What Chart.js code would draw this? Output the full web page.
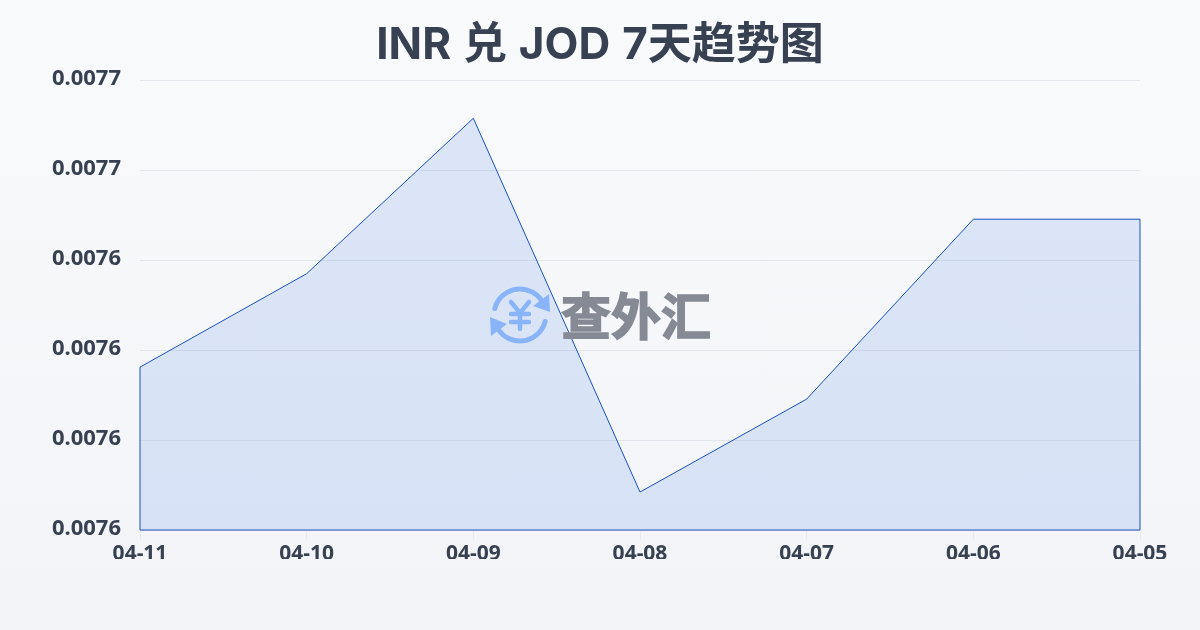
<!DOCTYPE html>
<html>
<head>
<meta charset="utf-8">
<script src="https://cdn.jsdelivr.net/npm/chart.js@4"></script>
<style>
    html, body { margin: 0; padding: 0; width: 1200px; height: 630px; overflow: hidden; background: linear-gradient(180deg, #f8fafc, #f2f4f7); }
    #chart { display: block; }
</style>
</head>
<body>
<canvas id="chart" width="1200" height="630"></canvas>
<script>
const chartTitle = 'INR 兑 JOD 7天趋势图';
const dates = ['04-11', '04-10', '04-09', '04-08', '04-07', '04-06', '04-05'];
const rates = [0.00761622, 0.00763700, 0.00767156, 0.00758844, 0.00760911, 0.00764911, 0.00764911];
const rateMin = 0.00758;
const rateMax = 0.00768;
const rateStep = 0.00002;

const textColor = '#374151';
const lineColor = '#1a50c2';
const titleFont = 'Inter, "Noto Sans CJK SC", sans-serif';
const tickFont = '"Noto Sans", "Noto Sans CJK SC", sans-serif';

// y tick labels get clipped to the scale box, so open it up to the canvas edge
const labelRoomPlugin = {
    id: 'labelRoom',
    afterLayout(chart) {
        chart.scales.y.left = 0;
    },
    beforeDraw(chart) {
        // title spaces are a bit wider in the reference
        chart.ctx.wordSpacing = '1.5px';
    }
};

// the reference closes the area outline down to the x axis
const outlinePlugin = {
    id: 'outline',
    afterDatasetsDraw(chart) {
        const pts = chart.getDatasetMeta(0).data;
        const base = chart.scales.y.getPixelForValue(rateMin);
        const first = pts[0];
        const last = pts[pts.length - 1];
        const ctx = chart.ctx;
        ctx.save();
        ctx.strokeStyle = lineColor;
        ctx.lineWidth = 1;
        ctx.beginPath();
        ctx.moveTo(first.x, first.y);
        ctx.lineTo(first.x, base);
        ctx.lineTo(last.x, base);
        ctx.lineTo(last.x, last.y);
        ctx.stroke();
        ctx.restore();
    }
};

const watermarkPlugin = {
    id: 'watermark',
    afterDatasetsDraw(chart) {
        const ctx = chart.ctx;
        const cx = 520, cy = 315, r = 26;
        ctx.save();
        ctx.strokeStyle = '#8ab4f8';
        ctx.fillStyle = '#8ab4f8';
        ctx.lineWidth = 5;
        ctx.lineCap = 'round';
        // two circular arrows
        ctx.beginPath();
        ctx.arc(cx, cy, r, Math.PI * 1.08, Math.PI * 1.85);
        ctx.stroke();
        ctx.beginPath();
        ctx.arc(cx, cy, r, Math.PI * 0.08, Math.PI * 0.85);
        ctx.stroke();
        ctx.beginPath();
        ctx.moveTo(549, 294); ctx.lineTo(550, 312); ctx.lineTo(533, 306);
        ctx.closePath();
        ctx.fill();
        ctx.beginPath();
        ctx.moveTo(491, 336); ctx.lineTo(490, 317); ctx.lineTo(507, 324);
        ctx.closePath();
        ctx.fill();
        // yen sign
        ctx.lineWidth = 4.5;
        ctx.beginPath();
        ctx.moveTo(511, 302); ctx.lineTo(520, 313); ctx.lineTo(529, 302);
        ctx.moveTo(520, 313); ctx.lineTo(520, 329);
        ctx.moveTo(511, 314); ctx.lineTo(529, 314);
        ctx.moveTo(511, 322); ctx.lineTo(529, 322);
        ctx.stroke();
        ctx.fillStyle = '#858a94';
        ctx.strokeStyle = '#858a94';
        ctx.lineWidth = 1.5;
        ctx.lineJoin = 'miter';
        ctx.font = 'bold 50px "Noto Sans CJK SC"';
        ctx.textAlign = 'left';
        ctx.textBaseline = 'middle';
        ctx.fillText('查外汇', 561, 316);
        ctx.strokeText('查外汇', 561, 316);
        ctx.restore();
    }
};

new Chart(document.getElementById('chart').getContext('2d'), {
    type: 'line',
    data: {
        labels: dates,
        datasets: [{
            data: rates,
            borderColor: lineColor,
            borderWidth: 1,
            backgroundColor: 'rgba(37, 99, 235, 0.13)',
            fill: 'start',
            tension: 0,
            pointRadius: 0
        }]
    },
    options: {
        responsive: false,
        animation: false,
        layout: { padding: { top: 19, right: 60, bottom: 71, left: 60 } },
        plugins: {
            legend: { display: false },
            tooltip: { enabled: false },
            title: {
                display: true,
                text: chartTitle,
                color: textColor,
                font: { family: titleFont, size: 44, weight: 'bold' },
                padding: { top: 0, bottom: 8.5 }
            }
        },
        scales: {
            x: {
                afterFit(scale) { scale.height = 29; },
                grid: { color: 'rgba(229, 231, 235, 0.8)', drawOnChartArea: false, tickLength: 10 },
                border: { display: false },
                ticks: {
                    color: textColor,
                    font: { family: tickFont, size: 21, weight: 'bold' },
                    padding: 1,
                    maxRotation: 0,
                    autoSkip: false
                }
            },
            y: {
                min: rateMin,
                max: rateMax,
                afterFit(scale) { scale.width = 80; },
                grid: { color: 'rgba(200, 205, 215, 0.4)', tickLength: 0 },
                border: { display: false },
                ticks: {
                    stepSize: rateStep,
                    color: textColor,
                    font: { family: tickFont, size: 22, weight: 'bold' },
                    padding: 19,
                    labelOffset: -1.5,
                    callback: v => v.toFixed(4)
                }
            }
        }
    },
    plugins: [labelRoomPlugin, outlinePlugin, watermarkPlugin]
});
</script>
</body>
</html>
